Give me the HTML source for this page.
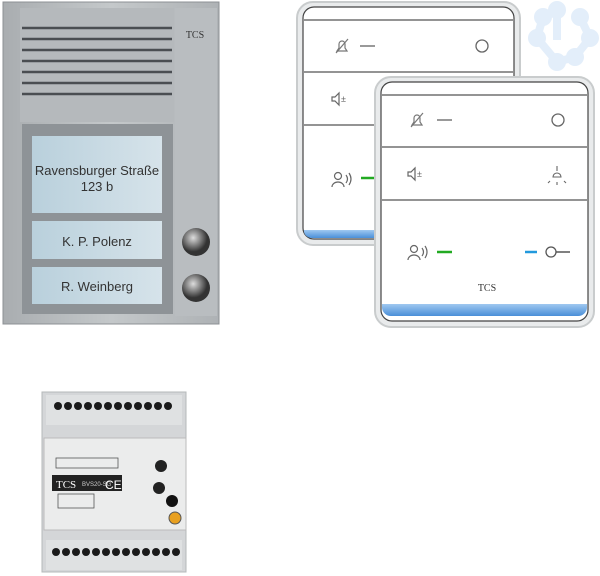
<!DOCTYPE html>
<html><head><style>
body{margin:0;width:600px;height:576px;background:#fff;position:relative;overflow:hidden;font-family:"Liberation Sans",sans-serif}
.a{position:absolute}
</style></head><body>
<svg class="a" style="left:0;top:0" width="600" height="576" viewBox="0 0 600 576">
<defs>
<linearGradient id="al" x1="0" x2="1"><stop offset="0" stop-color="#a9adb0"/><stop offset=".5" stop-color="#c4c8ca"/><stop offset="1" stop-color="#aeb2b5"/></linearGradient>
<linearGradient id="lab" x1="0" x2="1"><stop offset="0" stop-color="#b9d0dc"/><stop offset="1" stop-color="#d6e3ea"/></linearGradient>
<linearGradient id="blu" x1="0" x2="0" y1="0" y2="1"><stop offset="0" stop-color="#9fc8f0"/><stop offset="1" stop-color="#4a8fd8"/></linearGradient>
<radialGradient id="btn" cx=".4" cy=".35"><stop offset="0" stop-color="#ddd"/><stop offset=".6" stop-color="#777"/><stop offset="1" stop-color="#333"/></radialGradient>
<g id="bell" fill="none" stroke="#777" stroke-width="1.2"><path d="M-5 5 h10 l-2 -3 v-4 a3 3 0 0 0 -6 0 v4z"/><line x1="-6" y1="7" x2="6" y2="-7"/></g>
<g id="spk" fill="none" stroke="#666" stroke-width="1.2"><path d="M-6 -2 h3 l4 -4 v12 l-4 -4 h-3z"/><text x="3" y="3" font-size="9" fill="#666" stroke="none">±</text></g>
<g id="usr" fill="none" stroke="#666" stroke-width="1.2"><circle cx="-2" cy="-4" r="3.5"/><path d="M-8 7 a6 5 0 0 1 12 0"/><path d="M6 -5 q3 4 0 8 M9 -7 q4 6 0 12"/></g>
</defs>
<!-- door panel -->
<rect x="3" y="2" width="216" height="322" fill="url(#al)" stroke="#8c9094"/>
<rect x="20" y="8" width="154" height="114" fill="#b5b9bc"/>
<g stroke="#4a4e52" stroke-width="2.5">
<line x1="22" y1="28" x2="172" y2="28"/><line x1="22" y1="39" x2="172" y2="39"/><line x1="22" y1="50" x2="172" y2="50"/><line x1="22" y1="61" x2="172" y2="61"/><line x1="22" y1="72" x2="172" y2="72"/><line x1="22" y1="83" x2="172" y2="83"/><line x1="22" y1="94" x2="172" y2="94"/>
</g>
<rect x="175" y="8" width="42" height="308" fill="#b9bdc0"/>
<text x="195" y="38" font-size="10" font-family="Liberation Serif" fill="#333" text-anchor="middle">TCS</text>
<rect x="22" y="124" width="151" height="190" fill="#8e9397"/>
<rect x="32" y="136" width="130" height="77" fill="url(#lab)"/>
<rect x="32" y="221" width="130" height="38" fill="url(#lab)"/>
<rect x="32" y="267" width="130" height="37" fill="url(#lab)"/>
<text x="97" y="175" font-size="13" fill="#333" text-anchor="middle">Ravensburger Straße</text>
<text x="97" y="191" font-size="13" fill="#333" text-anchor="middle">123 b</text>
<text x="97" y="246" font-size="13" fill="#333" text-anchor="middle">K. P. Polenz</text>
<text x="97" y="291" font-size="13" fill="#333" text-anchor="middle">R. Weinberg</text>
<circle cx="196" cy="242" r="14" fill="url(#btn)"/><circle cx="196" cy="288" r="14" fill="url(#btn)"/>
<!-- logo -->
<g fill="#e3eefa" stroke="#e3eefa" stroke-width="8">
<circle cx="557" cy="10" r="5"/><circle cx="580" cy="17" r="5"/><circle cx="590" cy="38" r="5"/><circle cx="575" cy="57" r="5"/><circle cx="557" cy="62" r="5"/><circle cx="537" cy="38" r="5"/><circle cx="543" cy="17" r="5"/>
<polyline fill="none" points="543,17 537,38 557,62 575,57 590,38 580,17"/><line x1="557" y1="10" x2="557" y2="40"/>
</g>
<!-- back monitor -->
<rect x="297" y="2" width="223" height="243" rx="16" fill="#e9ebec" stroke="#c9cccd" stroke-width="2"/>
<rect x="303" y="7" width="211" height="232" rx="11" fill="#fff" stroke="#444" stroke-width="1.2"/>
<path d="M304 230 h209 v2 a8 8 0 0 1 -8 6 h-193 a8 8 0 0 1 -8 -6z" fill="url(#blu)"/>
<g stroke="#555" stroke-width="1.2"><line x1="304" y1="20" x2="513" y2="20"/><line x1="304" y1="72" x2="513" y2="72"/><line x1="304" y1="125" x2="513" y2="125"/></g>
<use href="#bell" x="342" y="46"/><line x1="360" y1="46" x2="375" y2="46" stroke="#999" stroke-width="2"/>
<circle cx="482" cy="46" r="6" fill="none" stroke="#666" stroke-width="1.3"/>
<use href="#spk" x="338" y="99"/>
<use href="#usr" x="340" y="180"/><line x1="361" y1="178" x2="376" y2="178" stroke="#2a2" stroke-width="2.5"/>
<!-- front monitor -->
<rect x="375" y="77" width="219" height="250" rx="16" fill="#e9ebec" stroke="#c9cccd" stroke-width="2"/>
<rect x="381" y="82" width="207" height="239" rx="11" fill="#fff" stroke="#444" stroke-width="1.2"/>
<path d="M382 304 h205 v4 a9 9 0 0 1 -9 8 h-187 a9 9 0 0 1 -9 -8z" fill="url(#blu)"/>
<g stroke="#555" stroke-width="1.2"><line x1="382" y1="95" x2="587" y2="95"/><line x1="382" y1="147" x2="587" y2="147"/><line x1="382" y1="200" x2="587" y2="200"/></g>
<use href="#bell" x="417" y="120"/><line x1="437" y1="120" x2="452" y2="120" stroke="#999" stroke-width="2"/>
<circle cx="558" cy="120" r="6" fill="none" stroke="#666" stroke-width="1.3"/>
<use href="#spk" x="414" y="174"/>
<g fill="none" stroke="#666" stroke-width="1.1"><path d="M553 177 a4 4 0 0 1 8 0 z"/><line x1="557" y1="166" x2="557" y2="171"/><line x1="550" y1="181" x2="548" y2="183"/><line x1="557" y1="182" x2="557" y2="185"/><line x1="564" y1="181" x2="566" y2="183"/></g>
<use href="#usr" x="416" y="253"/><line x1="437" y1="252" x2="452" y2="252" stroke="#2a2" stroke-width="2.5"/>
<line x1="525" y1="252" x2="537" y2="252" stroke="#29d" stroke-width="2.5"/>
<circle cx="551" cy="252" r="5" fill="none" stroke="#555" stroke-width="1.3"/><line x1="556" y1="252" x2="570" y2="252" stroke="#555" stroke-width="1.5"/>
<text x="487" y="291" font-size="10" font-family="Liberation Serif" fill="#333" text-anchor="middle">TCS</text>
<!-- power supply -->
<rect x="42" y="392" width="144" height="180" fill="#d4d6d8" stroke="#b5b8ba"/>
<rect x="46" y="395" width="136" height="30" fill="#dfe1e2"/>
<rect x="46" y="540" width="136" height="30" fill="#dfe1e2"/>
<g fill="#1a1a1a">
<circle cx="58" cy="406" r="4"/><circle cx="68" cy="406" r="4"/><circle cx="78" cy="406" r="4"/><circle cx="88" cy="406" r="4"/><circle cx="98" cy="406" r="4"/><circle cx="108" cy="406" r="4"/><circle cx="118" cy="406" r="4"/><circle cx="128" cy="406" r="4"/><circle cx="138" cy="406" r="4"/><circle cx="148" cy="406" r="4"/><circle cx="158" cy="406" r="4"/><circle cx="168" cy="406" r="4"/>
<circle cx="56" cy="552" r="4"/><circle cx="66" cy="552" r="4"/><circle cx="76" cy="552" r="4"/><circle cx="86" cy="552" r="4"/><circle cx="96" cy="552" r="4"/><circle cx="106" cy="552" r="4"/><circle cx="116" cy="552" r="4"/><circle cx="126" cy="552" r="4"/><circle cx="136" cy="552" r="4"/><circle cx="146" cy="552" r="4"/><circle cx="156" cy="552" r="4"/><circle cx="166" cy="552" r="4"/><circle cx="176" cy="552" r="4"/>
</g>
<rect x="44" y="438" width="142" height="92" fill="#ebecec" stroke="#bbb"/>
<rect x="52" y="475" width="70" height="16" fill="#222"/>
<text x="56" y="488" font-size="11" fill="#fff" font-family="Liberation Serif">TCS</text>
<text x="82" y="486" font-size="6" fill="#ccc">BVS20-SG</text>
<text x="105" y="489" font-size="12" fill="#fff">CE</text>
<g fill="none" stroke="#555" stroke-width=".8"><rect x="56" y="458" width="62" height="10"/><rect x="58" y="494" width="36" height="14"/></g>
<circle cx="161" cy="466" r="6" fill="#222"/><circle cx="159" cy="488" r="6" fill="#222"/>
<circle cx="172" cy="501" r="6" fill="#111"/>
<circle cx="175" cy="518" r="6" fill="#e8a020" stroke="#555"/>
</svg>
</body></html>
